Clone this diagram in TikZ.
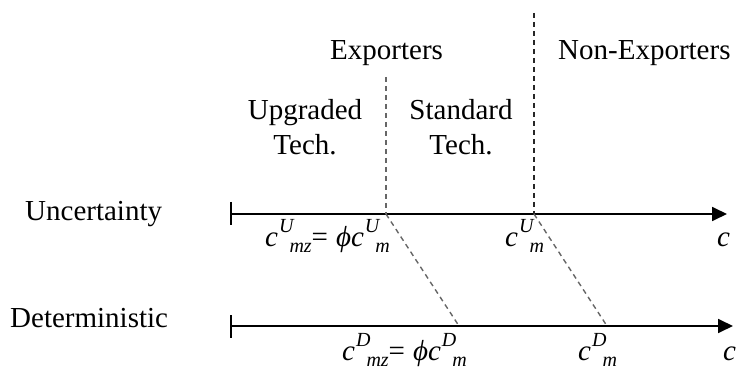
\documentclass[tikz,border=0pt]{standalone}
\usepackage{fontspec}
\setmainfont{Liberation Serif}
\usetikzlibrary{arrows.meta}

% superscript / subscript pair set side by side, as in c^U_{mz}
\newcommand{\supsubpair}[2]{%
  \kern1pt\raisebox{14pt}{\fontsize{20}{20}\selectfont\itshape #1}%
  \kern-4pt%
  \raisebox{-6pt}{\fontsize{20}{20}\selectfont\itshape #2}}
\newcommand{\vphi}{ϕ}

\begin{document}
\begin{tikzpicture}[x=1pt,y=-1pt,
  lbl/.style={inner sep=0pt,anchor=base west,font=\fontsize{29}{35}\selectfont},
  lblc/.style={inner sep=0pt,anchor=base,font=\fontsize{29}{35}\selectfont},
  axisline/.style={line width=1.8pt,-{Triangle[length=15pt,width=14pt]}},
  tickline/.style={line width=1.8pt},
  splitline/.style={line width=1.4pt,dash pattern=on 5pt off 4pt,draw=black!60},
  borderline/.style={line width=1.4pt,dash pattern=on 5pt off 4pt,draw=black!85}]
\useasboundingbox (0,0) rectangle (736,371);

% axis end points and break points
\coordinate (uL) at (231,214);
\coordinate (uR) at (727,214);
\coordinate (dL) at (231,326);
\coordinate (dR) at (733,326);
\coordinate (uS) at (386,214);
\coordinate (uN) at (534,214);
\coordinate (dS) at (459,326);
\coordinate (dN) at (607,326);
\coordinate (sTop) at (386,77);
\coordinate (nTop) at (534,13);
\coordinate (uT1) at (231,202);
\coordinate (uT2) at (231,225);
\coordinate (dT1) at (231,315);
\coordinate (dT2) at (231,338);

% region headings
\node[lbl] (exp) at (330,60) {Exporters};
\node[lbl] (nonexp) at (558,60) {Non-Exporters};
\node[lblc] (upgA) at (305,120) {Upgraded};
\node[lblc] (upgB) at (305,155) {Tech.};
\node[lblc] (stdA) at (461,120) {Standard};
\node[lblc] (stdB) at (461,155) {Tech.};

% row labels
\node[lbl] (unc) at (25,221) {Uncertainty};
\node[lbl] (det) at (10,327) {Deterministic};

% axes
\draw[axisline] (uL) -- (uR);
\draw[axisline] (dL) -- (dR);
\draw[tickline] (uT1) -- (uT2);
\draw[tickline] (dT1) -- (dT2);

% thresholds
\draw[borderline] (nTop) -- (uN);
\draw[splitline] (sTop) -- (uS);
\draw[splitline] (uS) -- (dS);
\draw[splitline] (uN) -- (dN);

% threshold labels
\node[lbl] (cUmz) at (265,247) {\itshape c\supsubpair{U}{mz}{\upshape=}\kern8pt\vphi c\supsubpair{U}{m}};
\node[lbl] (cUm) at (505,247) {\itshape c\supsubpair{U}{m}};
\node[lbl] (cU) at (717,247) {\itshape c};
\node[lbl] (cDmz) at (342,360) {\itshape c\supsubpair{D}{mz}{\upshape=}\kern8pt\vphi c\supsubpair{D}{m}};
\node[lbl] (cDm) at (578,360) {\itshape c\supsubpair{D}{m}};
\node[lbl] (cD) at (723,360) {\itshape c};
\end{tikzpicture}
\end{document}
